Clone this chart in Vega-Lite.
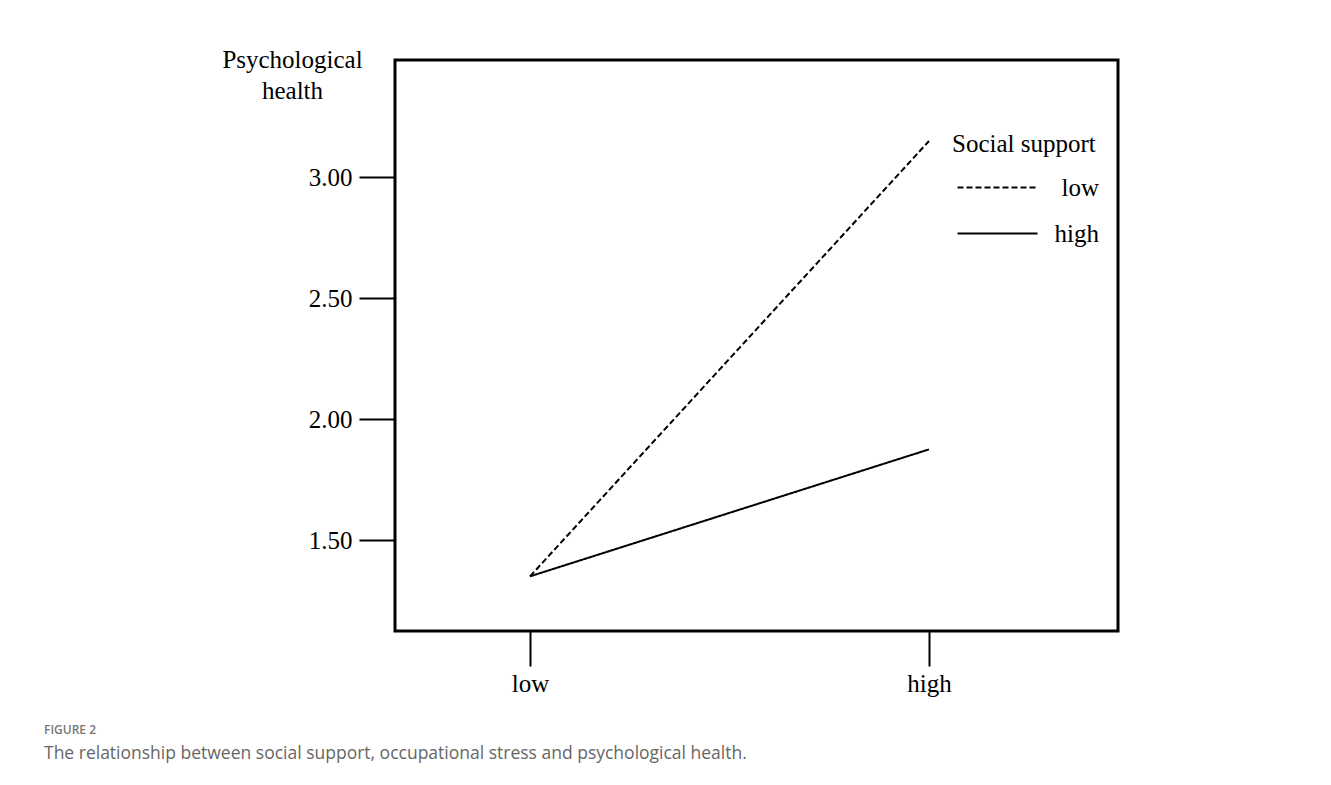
{
  "$schema": "https://vega.github.io/schema/vega-lite/v6.json",
  "autosize": {"type": "none"},
  "width": 723,
  "height": 571,
  "padding": {"left": 395, "top": 60, "right": 213, "bottom": 154},
  "background": "white",
  "title": {
    "text": "FIGURE 2",
    "subtitle": "The relationship between social support, occupational stress and psychological health.",
    "orient": "bottom",
    "anchor": "start",
    "frame": "group",
    "dx": -351,
    "offset": 29,
    "font": "Open Sans",
    "fontSize": 12,
    "fontWeight": 600,
    "color": "#777777",
    "subtitleFont": "Open Sans",
    "subtitleFontSize": 17.5,
    "subtitleColor": "#666666",
    "subtitlePadding": 8
  },
  "config": {
    "view": {"stroke": "black", "strokeWidth": 3},
    "axis": {
      "domain": false,
      "grid": false,
      "tickColor": "black",
      "tickWidth": 2,
      "labelFont": "Liberation Serif",
      "labelFontSize": 25,
      "labelColor": "black",
      "titleFont": "Liberation Serif",
      "titleFontSize": 25,
      "titleFontWeight": "normal",
      "titleColor": "black"
    }
  },
  "data": {
    "values": [
      {"stress": "low", "support": "low", "health": 1.35},
      {"stress": "high", "support": "low", "health": 3.15},
      {"stress": "low", "support": "high", "health": 1.35},
      {"stress": "high", "support": "high", "health": 1.875}
    ]
  },
  "mark": {"type": "line", "color": "black", "strokeWidth": 2},
  "encoding": {
    "x": {
      "field": "stress",
      "type": "ordinal",
      "sort": ["low", "high"],
      "scale": {"type": "point", "range": [135, 534], "padding": 0},
      "axis": {
        "title": null,
        "labelAngle": 0,
        "tickSize": 35,
        "labelPadding": 5,
        "labelBaseline": "top"
      }
    },
    "y": {
      "field": "health",
      "type": "quantitative",
      "scale": {"domain": [1.124, 3.485], "nice": false, "zero": false},
      "axis": {
        "title": ["Psychological", "health"],
        "values": [1.5, 2, 2.5, 3],
        "format": ".2f",
        "tickSize": 36,
        "labelPadding": 7,
        "titleAngle": 0,
        "titleAlign": "center",
        "titleBaseline": "alphabetic",
        "titleX": -103,
        "titleY": 7,
        "titleLineHeight": 31
      }
    },
    "strokeDash": {
      "field": "support",
      "type": "nominal",
      "sort": ["low", "high"],
      "scale": {"domain": ["low", "high"], "range": [[6, 3], [1, 0]]},
      "legend": {
        "title": "Social support",
        "orient": "none",
        "legendX": 557,
        "legendY": 72,
        "padding": 0,
        "titleFont": "Liberation Serif",
        "titleFontSize": 25,
        "titleFontWeight": "normal",
        "titleColor": "black",
        "titlePadding": 18,
        "labelFont": "Liberation Serif",
        "labelFontSize": 25,
        "labelColor": "black",
        "labelAlign": "right",
        "labelOffset": 122,
        "labelLimit": 300,
        "symbolType": "M-0.7,0H7.3",
        "symbolSize": 400,
        "symbolStrokeWidth": 2,
        "symbolStrokeColor": "black",
        "symbolFillColor": "transparent",
        "rowPadding": 20
      }
    }
  }
}
